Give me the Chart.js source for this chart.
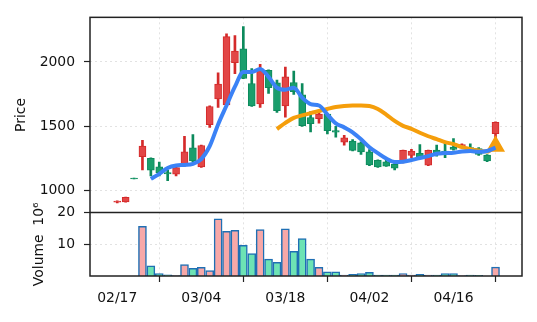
<!DOCTYPE html>
<html><head><meta charset="utf-8">
<script src="https://cdn.jsdelivr.net/npm/chart.js@4.4.1/dist/chart.umd.min.js"></script>
<style>html,body{margin:0;padding:0;background:#fff}#wrap{width:537px;height:322px;position:relative}</style>
</head><body><div id="wrap"><canvas id="c" width="537" height="322"></canvas></div>
<script>
const dates = ['02/17','02/18','02/19','02/20','02/21','02/24','02/25','02/26','02/27','02/28',
  '03/04','03/05','03/06','03/07','03/10','03/11','03/12','03/13','03/14','03/17',
  '03/18','03/19','03/20','03/21','03/24','03/25','03/26','03/27','03/28','03/31',
  '04/02','04/03','04/04','04/07','04/08','04/09','04/10','04/11','04/14','04/15',
  '04/16','04/17','04/18','04/21','04/22','04/23'];
const openP  = [910,913,1098,1264,1251,1185,1140,1128,1192,1333,1185,1513,1713,1667,1995,2102,1833,1675,1936,1838,1659,1841,1744,1569,1559,1595,1467,1377,1385,1372,1302,1236,1225,1205,1218,1274,1290,1198,1315,1308,1338,1346,1335,1328,1277,1444];
const highP  = [922,950,1098,1392,1255,1223,1160,1182,1423,1436,1355,1660,1915,2218,2205,2275,1948,1982,1940,1859,1961,1930,1833,1615,1615,1600,1500,1431,1397,1380,1320,1240,1244,1210,1315,1321,1359,1315,1354,1372,1405,1365,1364,1335,1280,1535];
const lowP   = [905,910,1092,1161,1115,1115,1077,1115,1190,1225,1180,1492,1648,1660,1910,1870,1655,1648,1756,1608,1571,1748,1500,1456,1525,1441,1415,1354,1310,1282,1195,1180,1188,1161,1215,1256,1258,1195,1269,1256,1315,1340,1308,1275,1225,1410];
const closeP = [920,948,1092,1346,1159,1140,1130,1179,1302,1231,1351,1654,1828,2197,2085,1872,1659,1936,1800,1621,1885,1769,1505,1521,1595,1467,1454,1410,1313,1302,1200,1185,1190,1175,1313,1308,1262,1313,1295,1295,1321,1359,1328,1282,1231,1531];
const volume = [0,0,0,15.7,3.2,0.8,0.4,0.1,3.6,2.4,2.7,1.7,18.0,14.1,14.4,9.7,7.1,14.6,5.3,4.3,14.9,7.8,11.8,5.3,2.7,1.35,1.35,0.3,0.5,0.8,1.15,0.3,0.3,0.3,0.8,0.3,0.5,0.3,0.3,0.8,0.8,0.1,0.3,0.2,0,2.8];
const ma5Start = 4;
const ma5 = [1092,1131,1177,1196,1200,1208,1246,1346,1515,1662,1808,1923,1923,1946,1885,1800,1785,1800,1723,1673,1662,1592,1523,1492,1454,1400,1338,1292,1250,1223,1225,1238,1254,1269,1287,1292,1295,1304,1308,1302,1308,1335];
const ma20Start = 19;
const ma20 = [1479,1527,1566,1585,1603,1619,1635,1650,1659,1662,1662,1658,1635,1592,1542,1504,1481,1450,1423,1400,1377,1362,1338,1323,1312,1304,1346];
const priceTicks = [1000,1500,2000];
const volumeTicks = [10,20];
const dateTickIdx = [0,10,20,30,40];

const FONT = 'DejaVu Sans';
const up = dates.map((d,i)=>closeP[i]>=openP[i]);
const bodyFill = up.map(u=>u?'#e24646':'#1a9e6c');
const bodyLine = up.map(u=>u?'#d42a2a':'#0c8a5c');
const volFill = up.map(u=>u?'#f7a8a8':'#6de3b4');

const bodies = dates.map((d,i)=>({x:i,y:[openP[i],closeP[i]]}));
const wicks = dates.map((d,i)=>({x:i,y:[lowP[i],highP[i]]}));
const vols = dates.map((d,i)=>({x:i,y:volume[i]}));
const ma5Pts = ma5.map((v,k)=>({x:k+ma5Start,y:v}));
const ma20Pts = ma20.map((v,k)=>({x:k+ma20Start,y:v}));

const frame = {
  id:'frame',
  afterDraw(chart){
    const a = chart.chartArea, c = chart.ctx, yb = chart.scales.y.bottom;
    c.save();
    c.strokeStyle = '#222'; c.lineWidth = 1.5;
    c.strokeRect(a.left, a.top, a.right-a.left, a.bottom-a.top);
    c.beginPath(); c.moveTo(a.left, yb); c.lineTo(a.right, yb); c.stroke();
    c.restore();
  }
};

const gridCommon = {color:'#e2e2e2', lineWidth:1, tickColor:'#222', tickLength:6, tickWidth:1.2};
const tickFont = {family:FONT,size:13.9};
new Chart(document.getElementById('c'), {
  type:'bar',
  data:{datasets:[
    {type:'line', data:ma5Pts, yAxisID:'y', borderColor:'#3b82f6', borderWidth:4, pointRadius:0, cubicInterpolationMode:'monotone', fill:false},
    {type:'line', data:ma20Pts, yAxisID:'y', borderColor:'#f59e0b', backgroundColor:'#f59e0b', borderWidth:4,
      pointStyle:'triangle', pointRadius:ma20.map((v,k)=>k===ma20.length-1?9:0), pointBorderWidth:2,
      cubicInterpolationMode:'monotone', fill:false},
    {data:bodies, yAxisID:'y', backgroundColor:bodyFill, borderColor:bodyLine, borderWidth:1, borderSkipped:false, barThickness:7, grouped:false},
    {data:wicks, yAxisID:'y', backgroundColor:bodyLine, borderWidth:0, barThickness:2, grouped:false},
    {data:vols, yAxisID:'yv', backgroundColor:volFill, borderColor:'#1f6fb4', borderWidth:1.5, barThickness:8, grouped:false}
  ]},
  options:{
    responsive:false, animation:false,
    layout:{padding:{top:15,right:15,left:0,bottom:0}},
    plugins:{legend:{display:false}, tooltip:{enabled:false}},
    scales:{
      x:{type:'linear', min:-3.24, max:48.15, offset:false,
        afterBuildTicks(s){ s.ticks = dateTickIdx.map(v=>({value:v})); },
        afterFit(s){ s.height = 46; },
        ticks:{callback:(v)=>dates[v], color:'#111', font:tickFont, padding:8, maxRotation:0, autoSkip:false},
        grid:gridCommon, border:{display:false, dash:[2,3]}},
      yv:{type:'linear', position:'left', stack:'p', stackWeight:64, min:0, max:20,
        afterBuildTicks(s){ s.ticks = volumeTicks.map(v=>({value:v})); },
        afterFit(s){ s.width = 90; },
        ticks:{callback:(v)=>String(v), color:'#111', font:tickFont, padding:9},
        grid:gridCommon, border:{display:false, dash:[2,3]},
        title:{display:true, text:'Volume  10\u2076', color:'#111', font:{family:FONT,size:13.9}, padding:{top:31,bottom:0}}},
      y:{type:'linear', position:'left', stack:'p', stackWeight:197, min:830, max:2347,
        afterBuildTicks(s){ s.ticks = priceTicks.map(v=>({value:v})); },
        afterFit(s){ s.width = 90; },
        ticks:{callback:(v)=>String(v), color:'#111', font:tickFont, padding:9},
        grid:gridCommon, border:{display:false, dash:[2,3]},
        title:{display:true, text:'Price', color:'#111', font:{family:FONT,size:13.9}, padding:{top:13,bottom:0}}}
    }
  },
  plugins:[frame]
});
</script></body></html>
